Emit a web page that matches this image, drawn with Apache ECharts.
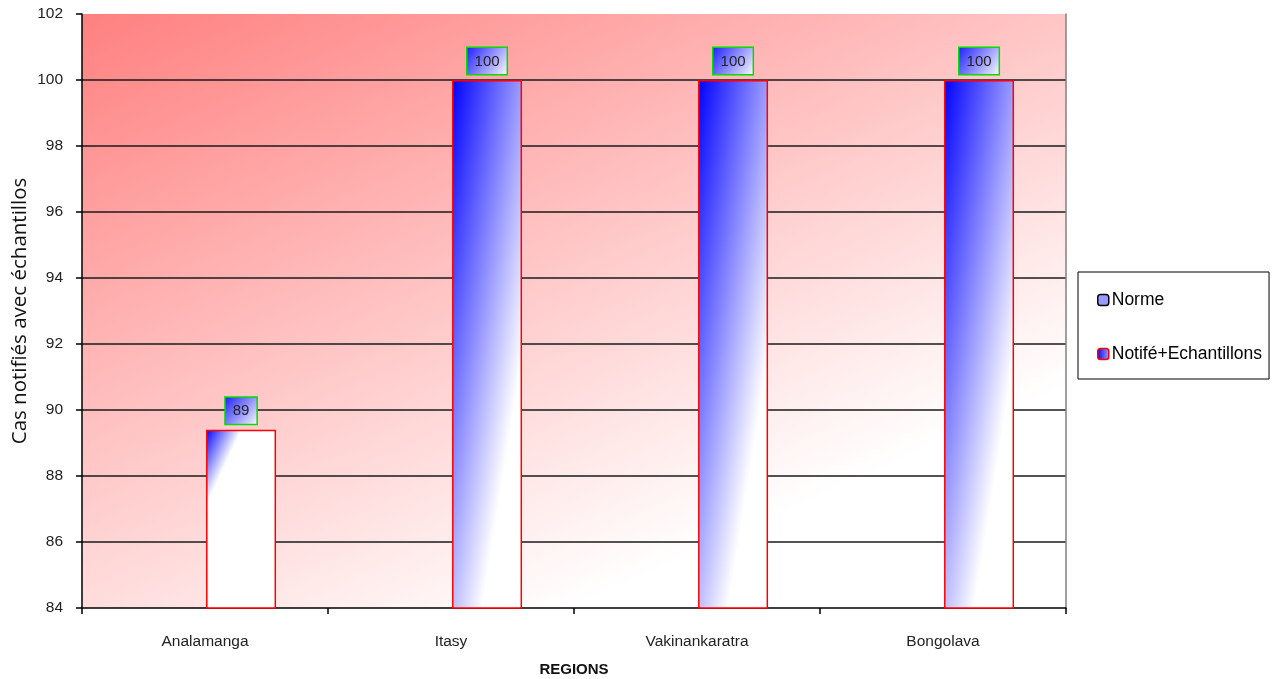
<!DOCTYPE html>
<html>
<head>
<meta charset="utf-8">
<script src="https://cdn.jsdelivr.net/npm/echarts@6/dist/echarts.min.js"></script>
<style>
html,body{margin:0;padding:0;background:#fff;}
#chart{width:1272px;height:679px;}
</style>
</head>
<body>
<div id="chart"></div>
<script>
// ---- data ----
const categories = ['Analamanga', 'Itasy', 'Vakinankaratra', 'Bongolava'];
const normeValues = [80, 80, 80, 80];
const notifValues = [89.4, 100, 100, 100];
const yMin = 84, yMax = 102, yInterval = 2;
const seriesNames = ['Norme', 'Notifé+Echantillons'];

// ---- styles ----
const SANS = "'Liberation Sans', Arial, sans-serif";
const lg = (x2, y2, stops) => new echarts.graphic.LinearGradient(0, 0, x2, y2, stops, false);
const gradTall = lg(1.6, 0.034, [{offset: 0, color: '#0000ff'}, {offset: 1, color: '#ffffff'}]);
const gradShort = lg(0.418, 0.0765, [{offset: 0, color: '#0000ff'}, {offset: 1, color: '#ffffff'}]);
const labelGrad = lg(1, 1, [{offset: 0, color: '#1a1aff'}, {offset: 1, color: '#ffffff'}]);
const bgGrad = lg(0.31, 1.14, [{offset: 0, color: '#ff8080'}, {offset: 1, color: '#ffffff'}]);

const nTicks = Math.round((yMax - yMin) / yInterval) + 1;
const splitColors = [];
for (let i = 0; i < nTicks; i++) splitColors.push(i === 0 || i === nTicks - 1 ? 'rgba(0,0,0,0)' : '#1a1a1a');

const chart = echarts.init(document.getElementById('chart'), null, {renderer: 'canvas'});
chart.setOption({
  animation: false,
  backgroundColor: '#ffffff',
  grid: {
    left: 82, right: 206, top: 14, bottom: 71,
    containLabel: false,
    outerBoundsMode: 'none',
    show: true,
    backgroundColor: bgGrad,
    borderWidth: 0
  },
  legend: {
    orient: 'vertical',
    left: 1078, top: 272,
    width: 192,
    padding: [19, 7, 16, 19],
    itemGap: 36,
    itemWidth: 11, itemHeight: 11,
    itemStyle: {borderWidth: 1.5},
    borderColor: '#000', borderWidth: 1,
    backgroundColor: '#fff',
    textStyle: {fontFamily: SANS, fontSize: 17.5, color: '#000', padding: [0, 0, 0, -2]},
    data: seriesNames
  },
  xAxis: {
    type: 'category',
    data: categories,
    name: 'REGIONS',
    nameLocation: 'middle',
    nameGap: 54,
    nameMoveOverlap: false,
    nameTextStyle: {fontFamily: SANS, fontSize: 15, fontWeight: 'bold', color: '#111'},
    axisLine: {lineStyle: {color: '#000', width: 1.5}},
    axisTick: {show: true, alignWithLabel: false, interval: 0, length: 6, lineStyle: {color: '#000', width: 1.5}},
    axisLabel: {fontFamily: SANS, fontSize: 15.5, color: '#222', margin: 26, interval: 0}
  },
  yAxis: [{
    type: 'value',
    min: yMin, max: yMax, interval: yInterval,
    name: 'Cas notifiés avec échantillos',
    nameLocation: 'middle',
    nameGap: 51,
    nameMoveOverlap: false,
    nameRotate: 90,
    nameTextStyle: {fontFamily: "'Open Sans', 'Noto Sans', sans-serif", fontSize: 20.5, fontWeight: 'normal', color: '#111'},
    axisLine: {show: true, lineStyle: {color: '#000', width: 1.5}},
    axisTick: {show: true, length: 6, lineStyle: {color: '#000', width: 1.5}},
    axisLabel: {fontFamily: SANS, fontSize: 15.5, color: '#222', margin: 19},
    splitLine: {show: true, lineStyle: {color: splitColors, width: 1.5}}
  }, {
    type: 'value',
    position: 'right',
    min: yMin, max: yMax, interval: yInterval,
    axisLine: {show: true, lineStyle: {color: '#808080', width: 1.5}},
    axisTick: {show: false},
    axisLabel: {show: false},
    splitLine: {show: false}
  }],
  series: [{
    name: seriesNames[0],
    type: 'bar',
    clip: true,
    barWidth: 70,
    barGap: '3%',
    itemStyle: {color: '#9999ff', borderColor: '#000', borderWidth: 1.5},
    label: {show: false},
    data: normeValues
  }, {
    name: seriesNames[1],
    type: 'bar',
    clip: true,
    barWidth: 70,
    barGap: '3%',
    itemStyle: {color: gradTall, borderColor: '#ff0000', borderWidth: 1.5},
    label: {
      show: true,
      position: 'top',
      distance: 6,
      formatter: p => String(Math.round(p.value)),
      fontFamily: SANS,
      fontSize: 15,
      color: '#222',
      backgroundColor: labelGrad,
      borderColor: '#00dd00',
      borderWidth: 1.5,
      padding: [6, 7, 5, 7]
    },
    data: notifValues.map(v => ({value: v, itemStyle: {color: v < 95 ? gradShort : gradTall}}))
  }]
});
</script>
</body>
</html>
